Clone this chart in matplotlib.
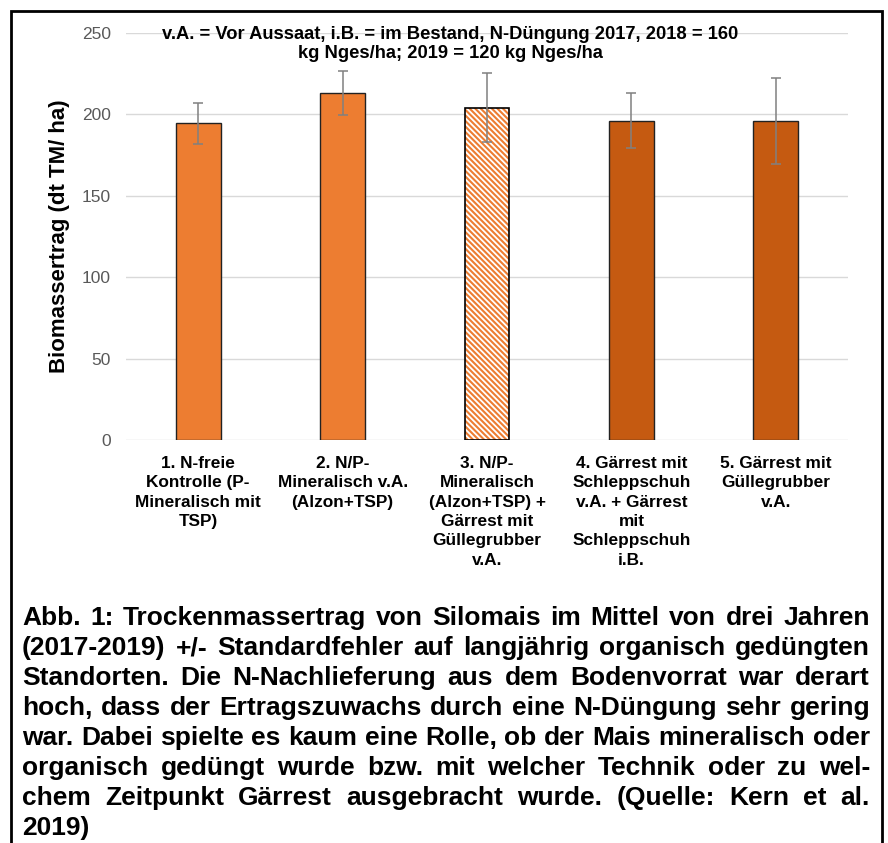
import matplotlib
matplotlib.use('Agg')
import matplotlib.pyplot as plt
from matplotlib.patches import Rectangle

plt.rcParams['font.family'] = ['Liberation Sans', 'DejaVu Sans']

# data
categories = [
    '1. N-freie\nKontrolle (P-\nMineralisch mit\nTSP)',
    '2. N/P-\nMineralisch v.A.\n(Alzon+TSP)',
    '3. N/P-\nMineralisch\n(Alzon+TSP) +\nGärrest mit\nGüllegrubber\nv.A.',
    '4. Gärrest mit\nSchleppschuh\nv.A. + Gärrest\nmit\nSchleppschuh\ni.B.',
    '5. Gärrest mit\nGüllegrubber\nv.A.',
]
yields = [194.6, 213.0, 204.1, 196.1, 196.1]
errors = [12.5, 13.5, 21.2, 17.0, 26.3]
yticks = [0, 50, 100, 150, 200, 250]

title = ('v.A. = Vor Aussaat, i.B. = im Bestand, N-Düngung 2017, 2018 = 160\n'
         'kg Nges/ha; 2019 = 120 kg Nges/ha')
ylabel = 'Biomassertrag (dt TM/ ha)'
caption = [
    'Abb. 1: Trockenmassertrag von Silomais im Mittel von drei Jahren',
    '(2017-2019) +/- Standardfehler auf langjährig organisch gedüngten',
    'Standorten. Die N-Nachlieferung aus dem Bodenvorrat war derart',
    'hoch, dass der Ertragszuwachs durch eine N-Düngung sehr gering',
    'war. Dabei spielte es kaum eine Rolle, ob der Mais mineralisch oder',
    'organisch gedüngt wurde bzw. mit welcher Technik oder zu wel-',
    'chem Zeitpunkt Gärrest ausgebracht wurde. (Quelle: Kern et al.',
    '2019)',
]

light = '#ED7D31'
dark = '#C55A11'
bar_colors = [light, light, light, dark, dark]
hatched = [False, False, True, False, False]

W, H = 888, 843
fig = plt.figure(figsize=(W / 100, H / 100), dpi=100)
ax = fig.add_axes([126 / W, 1 - 440 / H, (848 - 126) / W, (440 - 33) / H])

x = list(range(len(categories)))
plt.rcParams['hatch.linewidth'] = 1.5
for i in x:
    if hatched[i]:
        ax.bar(i, yields[i], width=0.31, color='white', edgecolor=bar_colors[i],
               hatch='\\' * 6, linewidth=0, zorder=2)
        ax.bar(i, yields[i], width=0.31, fill=False, edgecolor='black',
               linewidth=1.2, zorder=3)
    else:
        ax.bar(i, yields[i], width=0.31, color=bar_colors[i], edgecolor='#222222',
               linewidth=1.0, zorder=2)

ax.errorbar(x, yields, yerr=errors, fmt='none', ecolor='#808080',
            elinewidth=1.1, capsize=3.3, capthick=1.1, zorder=4)

ax.set_xlim(-0.5, len(categories) - 0.5)
ax.set_ylim(0, 250)
ax.set_yticks(yticks)
ax.yaxis.grid(True, color='#d9d9d9', linewidth=1.0, zorder=0)
ax.set_axisbelow(True)
for s in ax.spines.values():
    s.set_visible(False)
ax.tick_params(axis='both', length=0)
ax.tick_params(axis='y', labelsize=12.5, labelcolor='#595959', pad=11)
ax.set_xticks(x)
ax.set_xticklabels(categories, fontsize=12.4, fontweight='bold',
                   linespacing=1.36, va='top')
ax.tick_params(axis='x', pad=11.5)
ax.set_ylabel(ylabel, fontsize=16, fontweight='bold')
ax.yaxis.set_label_coords(-0.078, 0.5)

fig.text(450 / W, 1 - 44 / H, title, ha='center', va='center', fontsize=13.2,
         fontweight='bold', linespacing=1.2)

# justified caption: size picked so the widest line just fills the box
renderer = fig.canvas.get_renderer()
left, right = 22, 870
probe = [fig.text(0, 0, line, fontsize=10, fontweight='bold') for line in caption]
widest = max(p.get_window_extent(renderer).width for p in probe)
for p in probe:
    p.remove()
csize = 10 * (right - left) / widest

base0, step = 625, 30.0
for k, line in enumerate(caption):
    yy = 1 - (base0 + step * k) / H
    words = line.split(' ')
    if k == len(caption) - 1 or len(words) == 1:
        fig.text(left / W, yy, line, ha='left', va='baseline', fontsize=csize,
                 fontweight='bold')
        continue
    arts = [fig.text(0, yy, w, ha='left', va='baseline', fontsize=csize,
                     fontweight='bold') for w in words]
    widths = [a.get_window_extent(renderer).width for a in arts]
    gap = (right - left - sum(widths)) / (len(words) - 1)
    pos = left
    for a, wd in zip(arts, widths):
        a.set_x(pos / W)
        pos += wd + gap

fig.add_artist(Rectangle((11 / W, -0.05), (882 - 11) / W, 1.05 - 11 / H,
                         transform=fig.transFigure, fill=False,
                         edgecolor='black', linewidth=2.0))

fig.savefig('out.png', dpi=100)
